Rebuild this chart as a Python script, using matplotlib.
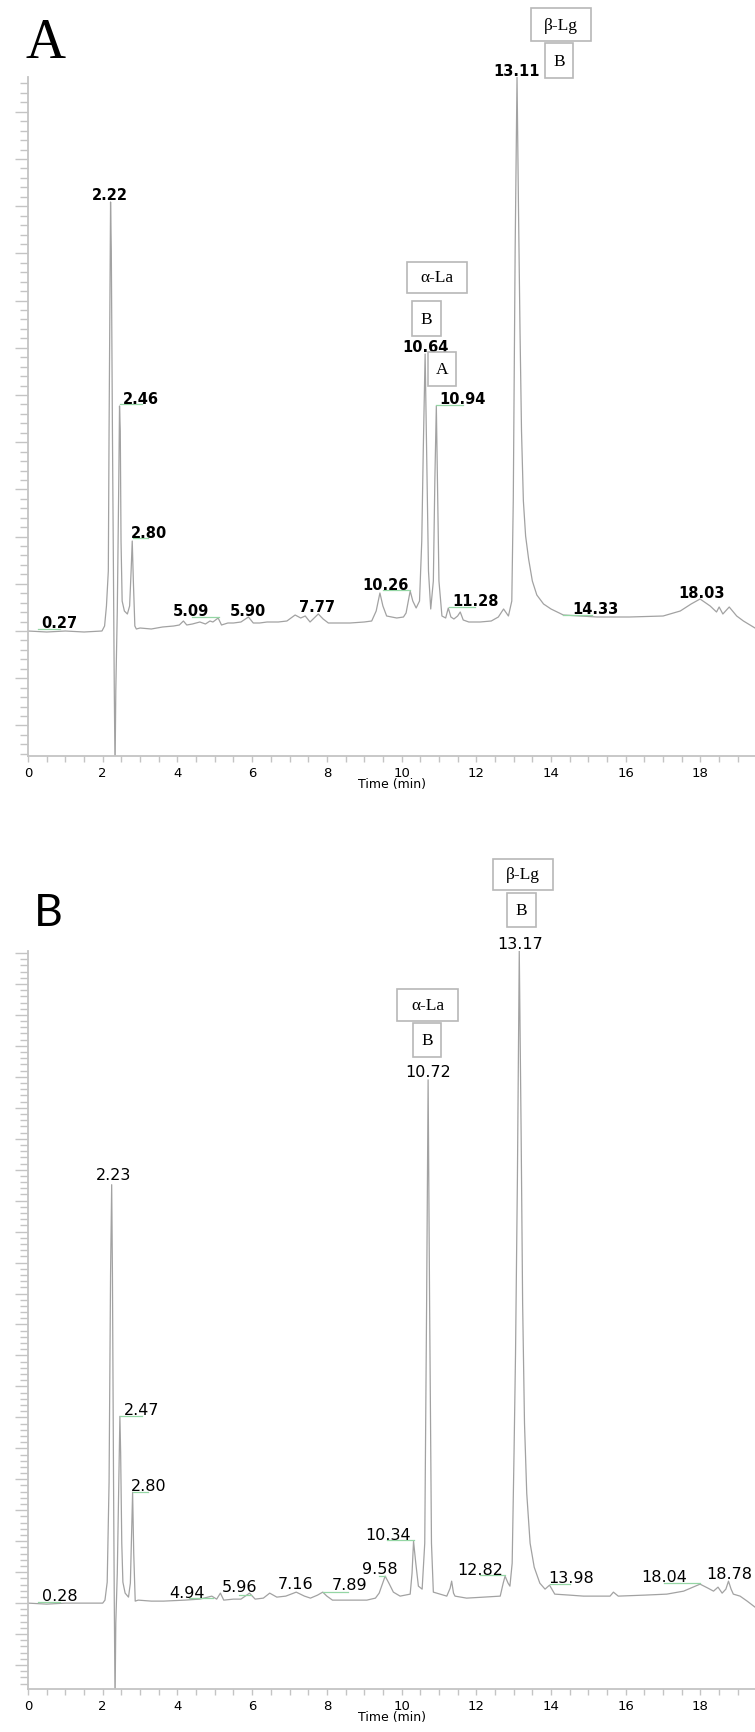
import matplotlib
matplotlib.use("Agg")
import matplotlib.pyplot as plt
from matplotlib.patches import Rectangle
from matplotlib.ticker import MultipleLocator

W, H = 755, 1733

# chromatogram A : time (min) / detector signal (arbitrary units)
time_a = [0.00, 0.50, 1.00, 1.50, 1.98, 2.05, 2.10, 2.15, 2.17, 2.21, 2.23, 2.26, 2.29,
          2.31, 2.33, 2.35, 2.39, 2.43, 2.45, 2.47, 2.49, 2.52, 2.58, 2.66, 2.72, 2.76,
          2.79, 2.82, 2.86, 2.90, 3.00, 3.30, 3.60, 3.90, 4.05, 4.16, 4.25, 4.40, 4.60,
          4.75, 4.87, 4.95, 5.09, 5.18, 5.35, 5.50, 5.70, 5.90, 6.03, 6.20, 6.40, 6.70,
          6.93, 7.15, 7.30, 7.42, 7.55, 7.77, 7.90, 8.04, 8.30, 8.62, 9.00, 9.20, 9.32,
          9.42, 9.50, 9.60, 9.87, 10.05, 10.12, 10.18, 10.23, 10.30, 10.39, 10.48, 10.54,
          10.58, 10.63, 10.67, 10.72, 10.78, 10.85, 10.89, 10.93, 10.96, 11.00, 11.08,
          11.18, 11.25, 11.32, 11.40, 11.50, 11.57, 11.65, 11.80, 12.10, 12.40, 12.59,
          12.73, 12.86, 12.95, 12.99, 13.04, 13.09, 13.13, 13.17, 13.21, 13.26, 13.32,
          13.40, 13.50, 13.62, 13.80, 14.00, 14.33, 14.80, 15.23, 16.10, 17.00, 17.46,
          17.75, 17.99, 18.26, 18.43, 18.50, 18.60, 18.77, 18.97, 19.15, 19.46]
signal_a = [0, -1, 0, -1, 0, 5, 25, 60, 200, 429, 380, 200, 40,
            -60, -140, -60, 20, 150, 225, 200, 90, 30, 20, 17, 25, 60,
            90, 50, 5, 2, 3, 2, 4, 5, 6, 10, 6, 7, 9,
            7, 10, 9, 13, 6, 8, 8, 9, 14, 8, 8, 9, 9,
            10, 16, 13, 15, 9, 17, 12, 8, 8, 8, 9, 10, 20,
            38, 25, 15, 13, 14, 18, 30, 40, 30, 23, 30, 90,
            180, 277, 180, 60, 22, 50, 150, 225, 150, 50, 15,
            13, 23, 14, 12, 15, 19, 11, 9, 9, 10, 14,
            22, 15, 30, 132, 382, 554, 420, 300, 200, 130, 95,
            72, 50, 36, 27, 22, 16, 15, 14, 14, 15, 20,
            27, 32, 25, 19, 24, 17, 24, 15, 10, 3]

# chromatogram B
time_b = [0.00, 0.50, 1.00, 1.50, 2.00, 2.06, 2.12, 2.17, 2.21, 2.24, 2.26, 2.29, 2.31,
          2.33, 2.35, 2.39, 2.43, 2.46, 2.48, 2.51, 2.54, 2.60, 2.69, 2.74, 2.78, 2.80,
          2.83, 2.87, 2.95, 3.30, 3.63, 4.20, 4.60, 4.92, 5.05, 5.15, 5.24, 5.50, 5.70,
          5.93, 6.08, 6.30, 6.47, 6.66, 6.90, 7.18, 7.40, 7.56, 7.75, 7.89, 8.00, 8.15,
          8.60, 9.07, 9.30, 9.40, 9.56, 9.66, 9.78, 9.96, 10.23, 10.28, 10.32, 10.38,
          10.45, 10.55, 10.62, 10.67, 10.71, 10.75, 10.80, 10.85, 11.03, 11.21, 11.30,
          11.34, 11.39, 11.43, 11.74, 12.20, 12.64, 12.72, 12.77, 12.85, 12.90, 12.96,
          13.01, 13.05, 13.10, 13.15, 13.20, 13.24, 13.29, 13.35, 13.44, 13.55, 13.70,
          13.84, 13.96, 14.10, 14.50, 14.87, 15.30, 15.58, 15.67, 15.80, 16.50, 17.10,
          17.55, 17.80, 17.99, 18.20, 18.35, 18.47, 18.58, 18.68, 18.75, 18.82, 18.88,
          19.06, 19.25, 19.46]
signal_b = [0, -1, 0, 0, 0, 3, 21, 121, 330, 419, 330, 120, 0,
            -100, -20, 30, 120, 187, 150, 60, 21, 10, 6, 20, 80, 111,
            50, 2, 3, 2, 2, 3, 4, 7, 4, 10, 3, 4, 4,
            10, 4, 5, 10, 6, 7, 11, 7, 5, 8, 11, 7, 3,
            3, 3, 5, 10, 27, 20, 11, 7, 9, 30, 62, 40,
            17, 14, 60, 300, 524, 300, 60, 11, 9, 7, 15,
            22, 10, 7, 5, 6, 7, 20, 27, 20, 17, 40,
            150, 250, 424, 653, 470, 300, 180, 110, 60, 36, 20,
            14, 18, 9, 8, 7, 7, 7, 11, 7, 8, 9,
            12, 16, 19, 15, 12, 16, 10, 14, 22, 14, 9,
            7, 2, -4]

# retention-time labels: (text, time, signal) at the text centre
labels_a = [("0.27", 0.85, 8.5), ("2.22", 2.20, 437), ("2.46", 3.02, 232),
            ("2.80", 3.23, 98), ("5.09", 4.37, 20), ("5.90", 5.89, 21),
            ("7.77", 7.73, 24), ("10.26", 9.56, 47), ("10.64", 10.64, 285),
            ("10.94", 11.63, 232), ("11.28", 11.99, 30), ("13.11", 13.08, 561),
            ("14.33", 15.19, 22), ("18.03", 18.04, 39)]
labels_b = [("0.28", 0.85, 8), ("2.23", 2.28, 429), ("2.47", 3.03, 194),
            ("2.80", 3.23, 118), ("4.94", 4.25, 11), ("5.96", 5.67, 17),
            ("7.16", 7.16, 20), ("7.89", 8.60, 19), ("9.58", 9.43, 35),
            ("10.34", 9.63, 69), ("10.72", 10.71, 532), ("12.82", 12.10, 34),
            ("13.17", 13.16, 661), ("13.98", 14.55, 26), ("18.04", 17.02, 27),
            ("18.78", 18.76, 30)]

# integration marks: (start, end, signal)
marks_a = [(0.28, 0.86, 2), (2.46, 3.04, 227), (2.81, 3.22, 93), (4.38, 5.10, 14),
           (9.51, 10.23, 41), (10.92, 11.64, 226), (11.28, 11.97, 24), (14.33, 15.09, 16)]
marks_b = [(0.27, 0.86, 1), (2.46, 3.04, 187), (2.80, 3.22, 111), (4.30, 4.94, 5),
           (5.65, 5.96, 8), (7.90, 8.57, 11), (9.40, 9.56, 27), (9.62, 10.32, 63),
           (12.10, 12.77, 28), (13.98, 14.51, 19), (17.03, 17.99, 20)]

LINE = "#a2a2a2"
AXC = "#c4c4c4"
GREEN = "#94d6a4"

fig = plt.figure(figsize=(W / 100, H / 100), dpi=100)


def px_axes(top, bottom):
    return fig.add_axes([28 / W, 1 - bottom / H, (W - 28) / W, (bottom - top) / H])


def style(ax, ymin, ymax, major):
    ax.set_xlim(0, 19.46)
    ax.set_ylim(ymin, ymax)
    for s in ("top", "right"):
        ax.spines[s].set_visible(False)
    for s in ("left", "bottom"):
        ax.spines[s].set_color(AXC)
        ax.spines[s].set_linewidth(1.3)
    ax.xaxis.set_major_locator(MultipleLocator(2))
    ax.xaxis.set_minor_locator(MultipleLocator(0.5))
    ax.yaxis.set_major_locator(MultipleLocator(major))
    ax.yaxis.set_minor_locator(MultipleLocator(major / 5))
    ax.tick_params(axis="x", which="both", direction="out", length=4, width=1,
                   color=AXC, pad=3, labelsize=9.5)
    ax.tick_params(axis="y", which="major", direction="out", length=9.5, width=1, color=AXC)
    ax.tick_params(axis="y", which="minor", direction="out", length=6, width=1, color=AXC)
    ax.set_yticklabels([])
    ax.set_xticks(range(0, 19, 2))
    ax.set_xticklabels([str(v) for v in range(0, 19, 2)])
    ax.set_xlabel("Time (min)", fontsize=9, labelpad=-1)


def box(x0, y0, x1, y1, text, size):
    fig.add_artist(Rectangle((x0 / W, 1 - y1 / H), (x1 - x0) / W, (y1 - y0) / H,
                             transform=fig.transFigure, fc="white", ec="#b8b8b8", lw=1.2))
    fig.text((x0 + x1) / 2 / W, 1 - (y0 + y1) / 2 / H, text, ha="center", va="center",
             family="Liberation Serif", fontsize=size)


# ---- panel A
ax1 = px_axes(78, 757)
ax1.plot(time_a, signal_a, color=LINE, lw=0.9)
for t0, t1, v in marks_a:
    ax1.plot([t0, t1], [v, v], color=GREEN, lw=0.9)
for txt, t, v in labels_a:
    ax1.text(t, v, txt, ha="center", va="center", fontsize=10.5, fontweight="bold")
style(ax1, -125, 554, 47.2)

# ---- panel B
ax2 = px_axes(952, 1690)
ax2.plot(time_b, signal_b, color=LINE, lw=0.9)
for t0, t1, v in marks_b:
    ax2.plot([t0, t1], [v, v], color=GREEN, lw=0.9)
for txt, t, v in labels_b:
    ax2.text(t, v, txt, ha="center", va="center", fontsize=11.5)
style(ax2, -86, 653, 31)

# panel letters
fig.text(46 / W, 1 - 44 / H, "A", ha="center", va="center", family="Liberation Serif",
         fontsize=40)
fig.text(48.5 / W, 1 - 913 / H, "B", ha="center", va="center", family="Lato", fontsize=32)

# protein boxes
box(531, 9, 591, 42, "β-Lg", 12.5)
box(545, 44, 573, 79, "B", 12.5)
box(407, 263, 467, 294, "α-La", 12.5)
box(412, 302, 441, 337, "B", 12.5)
box(428, 353, 456, 387, "A", 12.5)

box(493, 860, 553, 891, "β-Lg", 12.5)
box(507, 894, 536, 928, "B", 12.5)
box(397, 990, 458, 1022, "α-La", 12.5)
box(413, 1024, 441, 1058, "B", 12.5)

fig.savefig("out.png", dpi=100)
